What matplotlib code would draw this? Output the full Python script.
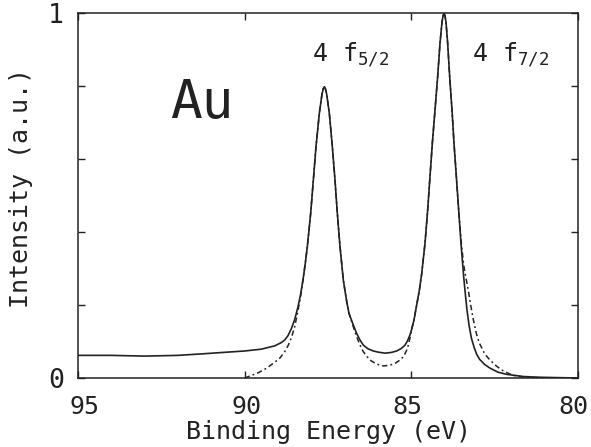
import matplotlib
matplotlib.use("Agg")
import matplotlib.pyplot as plt
from matplotlib.transforms import ScaledTranslation

# ---- data ----
# measured spectrum (solid)
meas_ev = [95.0, 94.0, 93.0, 92.0, 91.3, 90.5, 90.0, 89.5, 89.1, 88.9, 88.8, 88.7,
           88.6, 88.5, 88.4, 88.32, 88.24, 88.18, 88.12, 88.02, 87.94, 87.86, 87.76,
           87.68, 87.64, 87.61, 87.58, 87.54, 87.46, 87.37, 87.29, 87.22, 87.14, 87.04,
           86.94, 86.87, 86.74, 86.64, 86.54, 86.44, 86.3, 86.14, 86.0, 85.79, 85.6,
           85.44, 85.3, 85.19, 85.12, 85.04, 84.98, 84.92, 84.84, 84.76, 84.69, 84.59,
           84.51, 84.44, 84.37, 84.29, 84.21, 84.14, 84.08, 84.05, 84.02, 83.99, 83.96,
           83.91, 83.85, 83.78, 83.72, 83.65, 83.58, 83.51, 83.43, 83.38, 83.33, 83.27,
           83.2, 83.12, 83.04, 82.95, 82.8, 82.64, 82.4, 82.14, 81.64, 81.14, 80.6, 80.0]
meas_int = [0.062, 0.062, 0.060, 0.062, 0.066, 0.071, 0.074, 0.079, 0.088, 0.097, 0.104, 0.116,
            0.135, 0.160, 0.195, 0.230, 0.275, 0.315, 0.360, 0.451, 0.542, 0.634, 0.725,
            0.778, 0.793, 0.798, 0.793, 0.778, 0.725, 0.634, 0.542, 0.451, 0.360, 0.268,
            0.210, 0.177, 0.145, 0.122, 0.104, 0.090, 0.080, 0.074, 0.071, 0.068, 0.070,
            0.074, 0.081, 0.090, 0.101, 0.118, 0.137, 0.159, 0.200, 0.240, 0.285, 0.369,
            0.460, 0.552, 0.643, 0.734, 0.826, 0.917, 0.975, 0.992, 1.000, 0.992, 0.975,
            0.917, 0.826, 0.734, 0.643, 0.552, 0.460, 0.369, 0.278, 0.230, 0.186, 0.145,
            0.110, 0.085, 0.065, 0.051, 0.037, 0.027, 0.016, 0.010, 0.004, 0.002, 0.001, 0.000]

# fitted spectrum (dashed)
fit_ev = [90.0, 89.8, 89.6, 89.34, 89.1, 88.94, 88.8, 88.69, 88.6, 88.5, 88.4, 88.32,
          88.24, 88.18, 88.12, 88.02, 87.94, 87.86, 87.76, 87.68, 87.64, 87.61, 87.58,
          87.54, 87.46, 87.37, 87.29, 87.22, 87.14, 87.04, 86.94, 86.87, 86.74, 86.64,
          86.54, 86.44, 86.34, 86.24, 86.04, 85.84, 85.65, 85.49, 85.36, 85.24, 85.15,
          85.09, 85.02, 84.98, 84.92, 84.84, 84.76, 84.69, 84.59, 84.51, 84.44, 84.37,
          84.29, 84.21, 84.14, 84.08, 84.05, 84.02, 83.99, 83.96, 83.91, 83.85, 83.78,
          83.72, 83.65, 83.58, 83.50, 83.43, 83.37, 83.29, 83.22, 83.14, 83.05, 82.96,
          82.8, 82.64, 82.45, 82.29, 82.05, 81.84, 81.4, 80.0]
fit_int = [0.000, 0.007, 0.014, 0.027, 0.043, 0.055, 0.072, 0.090, 0.110, 0.140, 0.185, 0.225,
           0.275, 0.315, 0.360, 0.451, 0.542, 0.634, 0.725, 0.778, 0.793, 0.798, 0.793,
           0.778, 0.725, 0.634, 0.542, 0.451, 0.360, 0.268, 0.210, 0.177, 0.140, 0.113,
           0.090, 0.072, 0.060, 0.049, 0.038, 0.033, 0.035, 0.040, 0.048, 0.058, 0.074,
           0.090, 0.118, 0.137, 0.159, 0.200, 0.240, 0.285, 0.369, 0.460, 0.552, 0.643,
           0.734, 0.826, 0.917, 0.975, 0.992, 1.000, 0.992, 0.975, 0.917, 0.826, 0.734,
           0.643, 0.552, 0.460, 0.369, 0.310, 0.278, 0.240, 0.200, 0.160, 0.122, 0.096,
           0.066, 0.049, 0.033, 0.022, 0.011, 0.005, 0.001, 0.000]

x_ticks = [95, 90, 85, 80]
x_tick_labels = ["95", "90", "85", "80"]
y_ticks = [0, 0.2, 0.4, 0.6, 0.8, 1.0]
y_tick_labels = ["0", "", "", "", "", "1"]

# ---- styling ----
FONT = "DejaVu Sans Mono"
plt.rcParams["font.family"] = [FONT, "DejaVu Sans"]
plt.rcParams["mathtext.fontset"] = "custom"
plt.rcParams["mathtext.rm"] = FONT
plt.rcParams["mathtext.it"] = FONT
plt.rcParams["mathtext.default"] = "regular"
ink = "#222222"

fig = plt.figure(figsize=(5.91, 4.47), dpi=100)
ax = fig.add_axes([78 / 591, 1 - 378 / 447, 500 / 591, 365 / 447])

ax.plot(meas_ev, meas_int, color=ink, lw=1.2, solid_joinstyle="round")
ax.plot(fit_ev, fit_int, color=ink, lw=1.1, linestyle=(0, (3.5, 2, 1.2, 2)))

ax.set_xlim(95, 80)
ax.set_ylim(0, 1)
ax.set_xticks(x_ticks)
ax.set_xticklabels(x_tick_labels)
ax.set_yticks(y_ticks)
ax.set_yticklabels(y_tick_labels)
ax.tick_params(direction="in", length=5, width=1.0, color=ink, labelcolor=ink,
               top=True, right=True)
ax.tick_params(axis="x", pad=12, labelsize=18)
ax.tick_params(axis="y", pad=10, labelsize=19)
for s in ax.spines.values():
    s.set_linewidth(1.1)
    s.set_color(ink)

# small horizontal nudges of the x tick labels, as placed in the original
label_shift_px = [7, 2, -4, -5]
for lab, dx in zip(ax.get_xticklabels(), label_shift_px):
    lab.set_transform(lab.get_transform() + ScaledTranslation(dx / 100, 0, fig.dpi_scale_trans))

ax.set_xlabel("Binding Energy (eV)", fontsize=18, color=ink, labelpad=1)
ax.set_ylabel("Intensity (a.u.)", fontsize=18, color=ink)
ax.yaxis.set_label_coords(-0.09, 0.52)

ax.text(92.24, 0.753, "Au", fontsize=38, color=ink, ha="left", va="center")
ax.text(87.98, 0.868, "4 f$_{5/2}$", fontsize=18, color=ink, ha="left", va="baseline")
ax.text(83.18, 0.868, "4 f$_{7/2}$", fontsize=18, color=ink, ha="left", va="baseline")

fig.savefig("out.png", dpi=100)
